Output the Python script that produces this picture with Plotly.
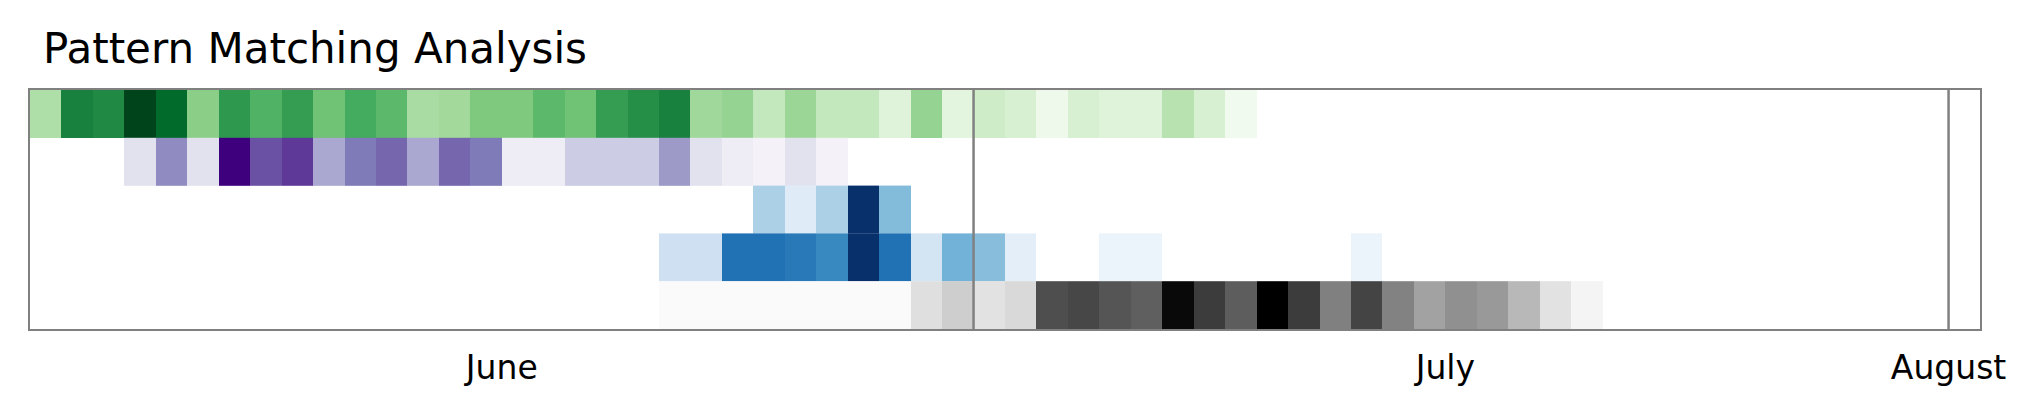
import plotly.graph_objects as go
import plotly.colors as pc
import pandas as pd

# ---- data -------------------------------------------------------------
start_date = "2024-06-01"
end_date = "2024-08-01"

row_names = ["Pattern A", "Pattern B", "Pattern C", "Pattern D", "Pattern E"]
row_scales = ["Greens", "Purples", "Blues", "Blues", "Greys"]

# each series: first day with data + daily match scores (0..1)
greens_start = "2024-06-01"
greens_vals = [0.33, 0.79, 0.76, 1.00, 0.88, 0.44, 0.70, 0.59, 0.68, 0.51,
               0.62, 0.56, 0.35, 0.37, 0.47, 0.47, 0.56, 0.51, 0.68, 0.74,
               0.79, 0.38, 0.41, 0.26, 0.39, 0.26, 0.26, 0.15, 0.41, 0.13,
               0.22, 0.18, 0.06, 0.18, 0.15, 0.15, 0.30, 0.18, 0.04]

purples_start = "2024-06-04"
purples_vals = [0.20, 0.56, 0.20, 1.00, 0.75, 0.82, 0.45, 0.63, 0.69, 0.45,
                0.69, 0.63, 0.13, 0.13, 0.31, 0.31, 0.31, 0.50, 0.20, 0.13,
                0.08, 0.20, 0.08]

blues_c_start = "2024-06-24"
blues_c_vals = [0.33, 0.12, 0.33, 1.00, 0.44]

blues_d_start = "2024-06-21"
blues_d_vals = [0.21, 0.21, 0.75, 0.75, 0.72, 0.66, 1.00, 0.75, 0.18, 0.48,
                0.43, 0.10, None, None, 0.06, 0.06, None, None, None, None,
                None, None, 0.06]

greys_start = "2024-06-21"
greys_vals = [0.04, 0.04, 0.04, 0.04, 0.04, 0.04, 0.04, 0.04, 0.22, 0.30,
              0.20, 0.25, 0.76, 0.78, 0.74, 0.70, 0.97, 0.81, 0.71, 1.00,
              0.81, 0.58, 0.79, 0.57, 0.46, 0.52, 0.49, 0.39, 0.20, 0.09]

tick_dates = ["2024-06-16", "2024-07-16", "2024-08-01"]
tick_labels = ["June", "July", "August"]
month_starts = ["2024-07-01", "2024-08-01"]

# ---- build ------------------------------------------------------------
days = pd.date_range(start_date, end_date, freq="D")
edges = pd.date_range(start_date, pd.Timestamp(end_date) + pd.Timedelta(days=1), freq="D")
edge_str = [d.strftime("%Y-%m-%d") for d in edges]


def full_row(start, vals):
    row = [None] * len(days)
    i0 = (pd.Timestamp(start) - days[0]).days
    for k, v in enumerate(vals):
        row[i0 + k] = v
    return row


series = [
    (greens_start, greens_vals),
    (purples_start, purples_vals),
    (blues_c_start, blues_c_vals),
    (blues_d_start, blues_d_vals),
    (greys_start, greys_vals),
]


def scale(name):
    cols = getattr(pc.sequential, name)
    n = len(cols)
    return [[i / (n - 1), c] for i, c in enumerate(cols)]


fig = go.Figure()
for r, ((s, v), nm, sc) in enumerate(zip(series, row_names, row_scales)):
    fig.add_trace(go.Heatmap(
        x=edge_str,
        y=[r, r + 1],
        z=[full_row(s, v)],
        colorscale=scale(sc),
        zmin=0, zmax=1,
        showscale=False,
        name=nm,
        hoverongaps=False,
    ))

line_col = "#808080"
shapes = []
for m in month_starts:
    shapes.append(dict(type="line", xref="x", yref="paper", x0=m, x1=m, y0=0, y1=1,
                       line=dict(color=line_col, width=2.5)))

W, H = 2028, 407
fig.update_layout(
    width=W, height=H,
    margin=dict(l=22, r=56, t=82, b=86),
    paper_bgcolor="white", plot_bgcolor="white",
    font=dict(family="DejaVu Sans", color="black"),
    title=dict(text="Pattern Matching Analysis", font=dict(size=42, family="DejaVu Sans"),
               x=35 / W, xanchor="left", xref="container",
               y=1 - 40 / H, yanchor="middle", yref="container"),
    shapes=shapes,
    showlegend=False,
)
fig.update_xaxes(
    range=[edge_str[0], edge_str[-1]],
    tickvals=tick_dates, ticktext=tick_labels,
    tickfont=dict(size=33, family="DejaVu Sans"),
    ticks="", ticklabelstandoff=8, showgrid=False, zeroline=False,
    showline=True, mirror=True, linecolor=line_col, linewidth=2,
)
fig.update_yaxes(
    range=[5, 0], showticklabels=False, ticks="", showgrid=False, zeroline=False,
    showline=True, mirror=True, linecolor=line_col, linewidth=2,
)

fig.write_html("out.html")
